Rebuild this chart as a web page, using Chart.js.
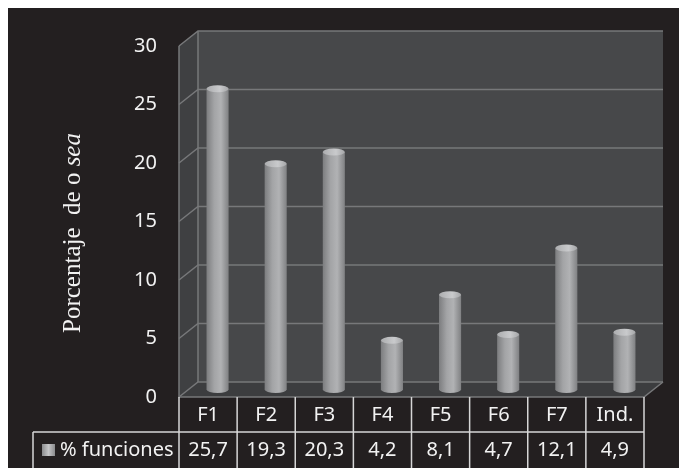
<!DOCTYPE html>
<html>
<head>
<meta charset="utf-8">
<script src="https://cdn.jsdelivr.net/npm/chart.js@4"></script>
<style>
  html, body { margin: 0; padding: 0; background: #fff; }
</style>
</head>
<body>
<canvas id="grafico" width="679" height="468"></canvas>
<script>
// Datos del gráfico
const categorias = ['F1', 'F2', 'F3', 'F4', 'F5', 'F6', 'F7', 'Ind.'];
const funciones = [25.7, 19.3, 20.3, 4.2, 8.1, 4.7, 12.1, 4.9];
const nombreSerie = '% funciones';
const tituloY = ['Porcentaje  de o ', 'sea'];

// Profundidad de la caja 3D
const DX = 19, DY = -15;

function cilindro(ctx, cx, top, bottom, w) {
    const r = w / 2, ry = 3.5;
    const g = ctx.createLinearGradient(cx - r, 0, cx + r, 0);
    g.addColorStop(0, '#7c7d7f');
    g.addColorStop(0.35, '#a3a4a6');
    g.addColorStop(0.65, '#b1b2b4');
    g.addColorStop(1, '#808183');
    ctx.fillStyle = g;
    ctx.beginPath();
    ctx.moveTo(cx - r, top);
    ctx.lineTo(cx - r, bottom);
    ctx.ellipse(cx, bottom, r, ry, 0, Math.PI, 0, true);
    ctx.lineTo(cx + r, top);
    ctx.closePath();
    ctx.fill();
    const gt = ctx.createLinearGradient(cx - r, 0, cx + r, 0);
    gt.addColorStop(0, '#acadaf');
    gt.addColorStop(0.6, '#c9cacc');
    gt.addColorStop(1, '#a5a6a8');
    ctx.fillStyle = gt;
    ctx.beginPath();
    ctx.ellipse(cx, top, r, ry, 0, 0, Math.PI * 2);
    ctx.fill();
}

const caja3d = {
    id: 'caja3d',
    beforeDraw(chart) {
        const ctx = chart.ctx;
        ctx.save();
        ctx.fillStyle = '#ffffff';
        ctx.fillRect(0, 0, chart.width, chart.height);
        ctx.fillStyle = '#231f20';
        ctx.fillRect(8, 8, chart.width - 8, chart.height - 8);
        ctx.restore();
    },
    beforeDatasetsDraw(chart) {
        const { ctx, chartArea: a, scales: { y } } = chart;
        const L = a.left, R = a.right, T = a.top, B = a.bottom;
        ctx.save();
        // pared del fondo
        ctx.fillStyle = '#47484a';
        ctx.fillRect(L + DX, T + DY, R - L, B - T);
        // pared lateral
        ctx.fillStyle = '#3f4042';
        ctx.beginPath();
        ctx.moveTo(L, T); ctx.lineTo(L + DX, T + DY); ctx.lineTo(L + DX, B + DY); ctx.lineTo(L, B);
        ctx.closePath(); ctx.fill();
        // suelo
        ctx.fillStyle = '#3c3d3f';
        ctx.beginPath();
        ctx.moveTo(L, B); ctx.lineTo(R, B); ctx.lineTo(R + DX, B + DY); ctx.lineTo(L + DX, B + DY);
        ctx.closePath(); ctx.fill();
        // líneas de división
        ctx.strokeStyle = '#77787a';
        ctx.lineWidth = 1.5;
        y.ticks.forEach(t => {
            const py = y.getPixelForValue(t.value);
            ctx.beginPath();
            ctx.moveTo(L, py); ctx.lineTo(L + DX, py + DY); ctx.lineTo(R + DX, py + DY);
            ctx.stroke();
        });
        ctx.beginPath();
        ctx.moveTo(L, T); ctx.lineTo(L, B); ctx.lineTo(R, B); ctx.lineTo(R + DX, B + DY);
        ctx.moveTo(L + DX, T + DY); ctx.lineTo(L + DX, B + DY);
        ctx.stroke();
        ctx.restore();
    },
    afterDatasetsDraw(chart) {
        const ctx = chart.ctx;
        ctx.save();
        chart.getDatasetMeta(0).data.forEach(el => {
            cilindro(ctx, el.x + DX / 2, el.y + DY / 2, el.base + DY / 2, el.width);
        });
        ctx.restore();
    },
    afterDraw(chart) {
        const { ctx, chartArea: a, scales: { x } } = chart;
        const B = a.bottom, fila = 35;
        const colW = (a.right - a.left) / categorias.length;
        ctx.save();
        ctx.strokeStyle = '#d6d6d6';
        ctx.lineWidth = 1.5;
        ctx.beginPath();
        for (let i = 0; i <= categorias.length; i++) {
            const px = a.left + i * colW;
            ctx.moveTo(px, B); ctx.lineTo(px, B + 2 * fila + 2);
        }
        ctx.moveTo(33, B + fila); ctx.lineTo(a.right, B + fila);
        ctx.moveTo(33, B + fila); ctx.lineTo(33, B + 2 * fila + 2);
        ctx.stroke();

        ctx.fillStyle = '#f2f2f2';
        ctx.font = '20px "Noto Sans"';
        ctx.textAlign = 'center';
        ctx.textBaseline = 'middle';
        categorias.forEach((c, i) => {
            const px = x.getPixelForValue(i);
            ctx.fillText(c, px, B + fila / 2 + 1);
            ctx.fillText(funciones[i].toFixed(1).replace('.', ','), px, B + fila * 1.5 + 1);
        });
        ctx.textAlign = 'left';
        ctx.fillText(nombreSerie, 60, B + fila * 1.5 + 1);

        // marcador de la leyenda
        const gm = ctx.createLinearGradient(42, 0, 55, 0);
        gm.addColorStop(0, '#8a8b8d'); gm.addColorStop(0.5, '#c4c5c7'); gm.addColorStop(1, '#8a8b8d');
        ctx.fillStyle = gm;
        ctx.fillRect(42, B + fila + 12, 13, 12);

        // título del eje Y
        ctx.translate(80, 233);
        ctx.rotate(-Math.PI / 2);
        ctx.textBaseline = 'alphabetic';
        ctx.fillStyle = '#f2f2f2';
        const fNormal = '25px "Liberation Serif"', fItalic = 'italic 25px "Liberation Serif"';
        ctx.font = fNormal;
        const w1 = ctx.measureText(tituloY[0]).width;
        ctx.font = fItalic;
        const w2 = ctx.measureText(tituloY[1]).width;
        let px = -(w1 + w2) / 2;
        ctx.font = fNormal;
        ctx.fillText(tituloY[0], px, 0);
        ctx.font = fItalic;
        ctx.fillText(tituloY[1], px + w1, 0);
        ctx.restore();
    }
};

new Chart(document.getElementById('grafico').getContext('2d'), {
    type: 'bar',
    data: {
        labels: categorias,
        datasets: [{
            label: nombreSerie,
            data: funciones,
            backgroundColor: 'rgba(0,0,0,0)',
            categoryPercentage: 1,
            barPercentage: 0.38
        }]
    },
    options: {
        responsive: false,
        animation: false,
        layout: { padding: { top: 46, right: 35, bottom: 71, left: 0 } },
        plugins: {
            legend: { display: false },
            tooltip: { enabled: false }
        },
        scales: {
            x: { display: false },
            y: {
                min: 0,
                max: 30,
                afterFit: s => { s.width = 179; },
                grid: { display: false, drawTicks: false },
                border: { display: false },
                ticks: {
                    stepSize: 5,
                    padding: 22,
                    color: '#f2f2f2',
                    font: { family: 'Noto Sans', size: 20 }
                }
            }
        }
    },
    plugins: [caja3d]
});
</script>
</body>
</html>
